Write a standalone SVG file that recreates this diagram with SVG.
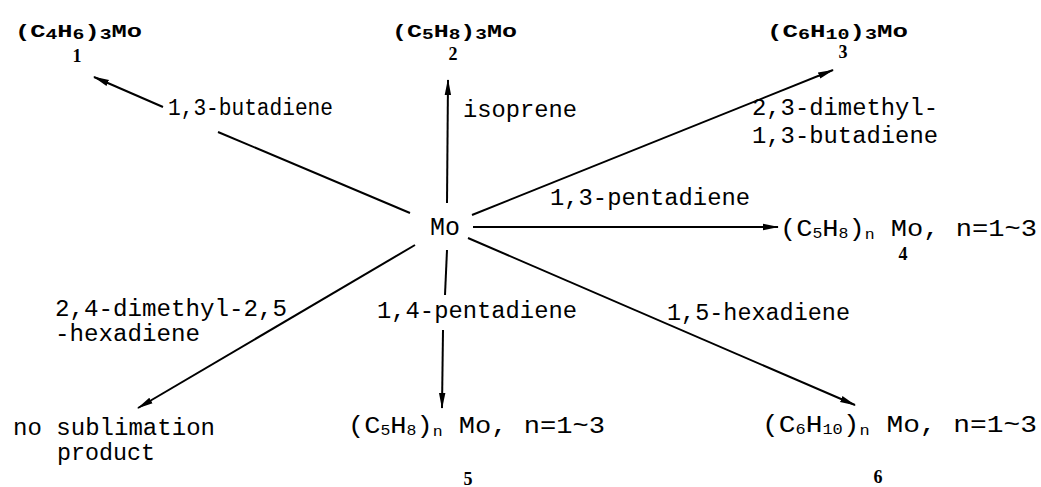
<svg xmlns="http://www.w3.org/2000/svg" width="1041" height="487" viewBox="0 0 1041 487">
<style>
.lbl{font-family:"Liberation Mono",monospace;font-size:23px;fill:#000}
.ttl{font-family:"Liberation Mono",monospace;font-size:18px;font-weight:bold;fill:#000}
.sub{font-size:14px}
.num{font-family:"Liberation Serif",serif;font-size:18px;font-weight:bold;fill:#000;text-anchor:middle}
.ln{stroke:#000;stroke-width:2;fill:none}
</style>
<defs>
<marker id="ah" markerWidth="16" markerHeight="8" refX="15" refY="4" orient="auto" markerUnits="userSpaceOnUse" viewBox="0 0 16 8">
<path d="M0,0.8 L16,4 L0,7.2 Z" fill="#000"/>
</marker>
</defs>
<rect width="1041" height="487" fill="#fff"/>
<g id="connectors">
<line class="ln" x1="163" y1="107" x2="94" y2="77" marker-end="url(#ah)"/>
<line class="ln" x1="410" y1="213" x2="218" y2="132"/>
<line class="ln" x1="447" y1="203" x2="448" y2="80" marker-end="url(#ah)"/>
<line class="ln" x1="472" y1="215" x2="833" y2="70" marker-end="url(#ah)"/>
<line class="ln" x1="473" y1="227" x2="778" y2="227" marker-end="url(#ah)"/>
<line class="ln" x1="468" y1="238" x2="855" y2="405" marker-end="url(#ah)"/>
<line class="ln" x1="447" y1="250" x2="445" y2="295"/>
<line class="ln" x1="443" y1="330" x2="442" y2="408" marker-end="url(#ah)"/>
<line class="ln" x1="415" y1="245" x2="138" y2="408" marker-end="url(#ah)"/>
</g>
<g id="labels">
<text class="lbl" x="168" y="115" textLength="165" lengthAdjust="spacingAndGlyphs">1,3-butadiene</text>
<text class="lbl" x="463" y="117" textLength="114" lengthAdjust="spacingAndGlyphs">isoprene</text>
<text class="lbl" x="752" y="115" textLength="186" lengthAdjust="spacingAndGlyphs">2,3-dimethyl-</text>
<text class="lbl" x="752" y="143" textLength="186" lengthAdjust="spacingAndGlyphs">1,3-butadiene</text>
<text class="lbl" x="550" y="205" textLength="200" lengthAdjust="spacingAndGlyphs">1,3-pentadiene</text>
<text class="lbl" x="377" y="318" textLength="200" lengthAdjust="spacingAndGlyphs">1,4-pentadiene</text>
<text class="lbl" x="667" y="320" textLength="183" lengthAdjust="spacingAndGlyphs">1,5-hexadiene</text>
<text class="lbl" x="55" y="316" textLength="232" lengthAdjust="spacingAndGlyphs">2,4-dimethyl-2,5</text>
<text class="lbl" x="55" y="341" textLength="145" lengthAdjust="spacingAndGlyphs">-hexadiene</text>
</g>
<g id="node-Mo">
<text class="lbl" x="430" y="235" textLength="30" lengthAdjust="spacingAndGlyphs" style="font-size:25px">Mo</text>
</g>
<g id="node-1">
<text class="ttl" x="15" y="37" textLength="127" lengthAdjust="spacingAndGlyphs">(C<tspan class="sub" dy="2">4</tspan><tspan dy="-2">H</tspan><tspan class="sub" dy="2">6</tspan><tspan dy="-2">)</tspan><tspan class="sub" dy="2">3</tspan><tspan dy="-2">Mo</tspan></text>
<text class="num" x="77" y="62">1</text>
</g>
<g id="node-2">
<text class="ttl" x="392" y="37" textLength="125" lengthAdjust="spacingAndGlyphs">(C<tspan class="sub" dy="2">5</tspan><tspan dy="-2">H</tspan><tspan class="sub" dy="2">8</tspan><tspan dy="-2">)</tspan><tspan class="sub" dy="2">3</tspan><tspan dy="-2">Mo</tspan></text>
<text class="num" x="453" y="60">2</text>
</g>
<g id="node-3">
<text class="ttl" x="767" y="37" textLength="141" lengthAdjust="spacingAndGlyphs">(C<tspan class="sub" dy="2">6</tspan><tspan dy="-2">H</tspan><tspan class="sub" dy="2">10</tspan><tspan dy="-2">)</tspan><tspan class="sub" dy="2">3</tspan><tspan dy="-2">Mo</tspan></text>
<text class="num" x="843" y="58">3</text>
</g>
<g id="node-4">
<text class="lbl" x="780" y="236" textLength="257" lengthAdjust="spacingAndGlyphs">(C<tspan class="sub" dy="2">5</tspan><tspan dy="-2">H</tspan><tspan class="sub" dy="2">8</tspan><tspan dy="-2">)</tspan><tspan class="sub" dy="3">n</tspan><tspan dy="-3"> Mo, n=1~3</tspan></text>
<text class="num" x="903" y="260">4</text>
</g>
<g id="node-5">
<text class="lbl" x="348" y="433" textLength="257" lengthAdjust="spacingAndGlyphs">(C<tspan class="sub" dy="2">5</tspan><tspan dy="-2">H</tspan><tspan class="sub" dy="2">8</tspan><tspan dy="-2">)</tspan><tspan class="sub" dy="3">n</tspan><tspan dy="-3"> Mo, n=1~3</tspan></text>
<text class="num" x="468" y="485">5</text>
</g>
<g id="node-6">
<text class="lbl" x="762" y="432" textLength="275" lengthAdjust="spacingAndGlyphs">(C<tspan class="sub" dy="2">6</tspan><tspan dy="-2">H</tspan><tspan class="sub" dy="2">10</tspan><tspan dy="-2">)</tspan><tspan class="sub" dy="3">n</tspan><tspan dy="-3"> Mo, n=1~3</tspan></text>
<text class="num" x="878" y="483">6</text>
</g>
<g id="node-none">
<text class="lbl" x="13" y="435" textLength="202" lengthAdjust="spacingAndGlyphs">no sublimation</text>
<text class="lbl" x="57" y="460" textLength="98" lengthAdjust="spacingAndGlyphs">product</text>
</g>
</svg>
